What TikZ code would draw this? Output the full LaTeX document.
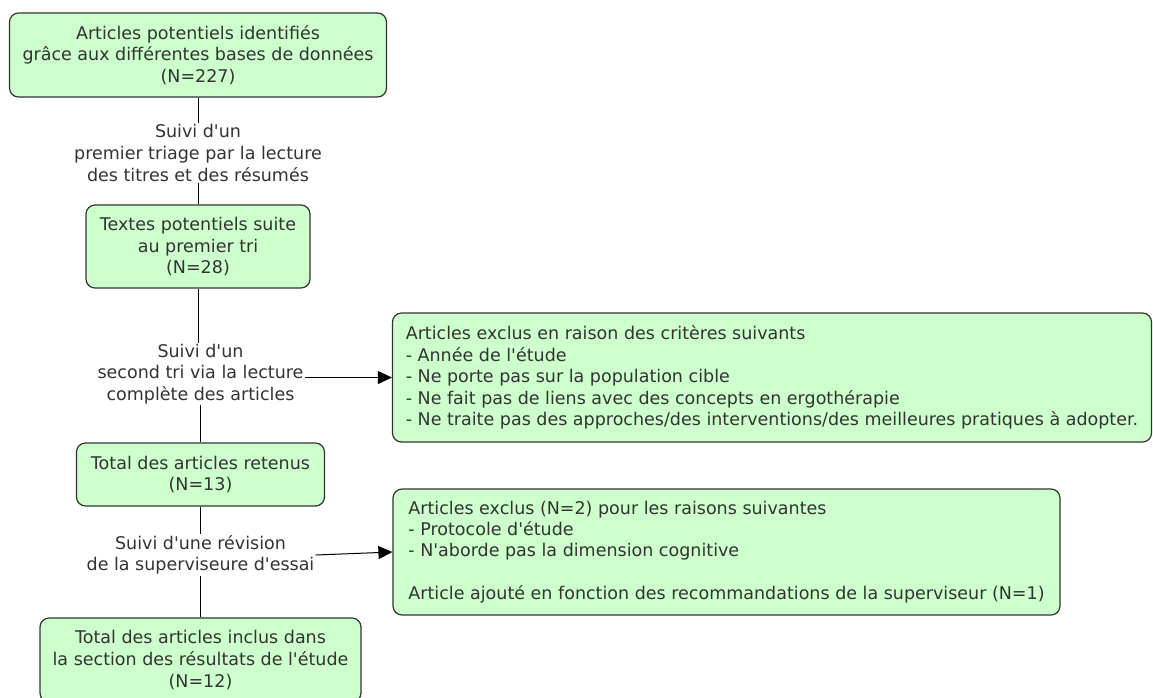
\documentclass[tikz,border=0pt]{standalone}
\usepackage{fontspec}
\newfontfamily\flowfont{DejaVu Sans}
\usetikzlibrary{arrows.meta}
\definecolor{boxgreen}{HTML}{CCFFCC}
\definecolor{boxline}{HTML}{333333}

\begin{document}
\begin{tikzpicture}[x=1pt,y=-1pt,
  box/.style={draw=boxline,line width=1.2pt,fill=boxgreen,rounded corners=9pt,align=center,inner sep=0pt,
    font=\flowfont\fontsize{17.5}{21.6}\selectfont,text=black!80},
  note/.style={align=center,inner sep=1pt,font=\flowfont\fontsize{17.5}{21.6}\selectfont,text=black!80},
  excl/.style={draw=boxline,line width=1.2pt,fill=boxgreen,rounded corners=9pt,align=left,inner sep=0pt,
    font=\flowfont\fontsize{17.5}{21.4}\selectfont,text=black!80},
  link/.style={draw=black,line width=1pt},
  ptr/.style={link,-{Triangle[length=14pt,width=13pt]}}]
  \useasboundingbox (0,0) rectangle (1153,697);

  \node[box,minimum width=377,minimum height=84] (src) at (198,55)
    {Articles potentiels identifiés\\grâce aux différentes bases de données\\(N=227)};
  \node[note] (tri1) at (198,153)
    {Suivi d'un\\premier triage par la lecture\\des titres et des résumés};
  \node[box,minimum width=224,minimum height=83] (first) at (198,246.5)
    {Textes potentiels suite\\au premier tri\\(N=28)};
  \node[note] (tri2) at (200.5,374)
    {Suivi d'un\\second tri via la lecture\\complète des articles};
  \node[box,minimum width=248,minimum height=63] (kept) at (200.5,474.5)
    {Total des articles retenus\\(N=13)};
  \node[note] (tri3) at (200.5,555)
    {Suivi d'une révision\\de la superviseure d'essai};
  \node[box,minimum width=321,minimum height=84] (final) at (200.5,660)
    {Total des articles inclus dans\\la section des résultats de l'étude\\(N=12)};

  \node[excl,minimum width=759,minimum height=129] (out1) at (772,377.5)
    {Articles exclus en raison des critères suivants\\
     - Année de l'étude\\
     - Ne porte pas sur la population cible\\
     - Ne fait pas de liens avec des concepts en ergothérapie\\
     - Ne traite pas des approches/des interventions/des meilleures pratiques à adopter.};
  \node[excl,minimum width=667,minimum height=126] (out2) at (726.5,552)
    {Articles exclus (N=2) pour les raisons suivantes\\
     - Protocole d'étude\\
     - N'aborde pas la dimension cognitive\\[21.4pt]
     Article ajouté en fonction des recommandations de la superviseur (N=1)};

  \draw[link] (src) -- (tri1);
  \draw[link] (tri1) -- (first);
  \draw[link] (first.south) -- (first.south |- tri2.north);
  \draw[link] (tri2) -- (kept);
  \draw[link] (kept) -- (tri3);
  \draw[link] (tri3) -- (final);
  \draw[ptr] (tri2.east |- out1.west) -- (out1.west);
  \draw[ptr] (tri3.east) -- (out2.west);
\end{tikzpicture}
\end{document}
